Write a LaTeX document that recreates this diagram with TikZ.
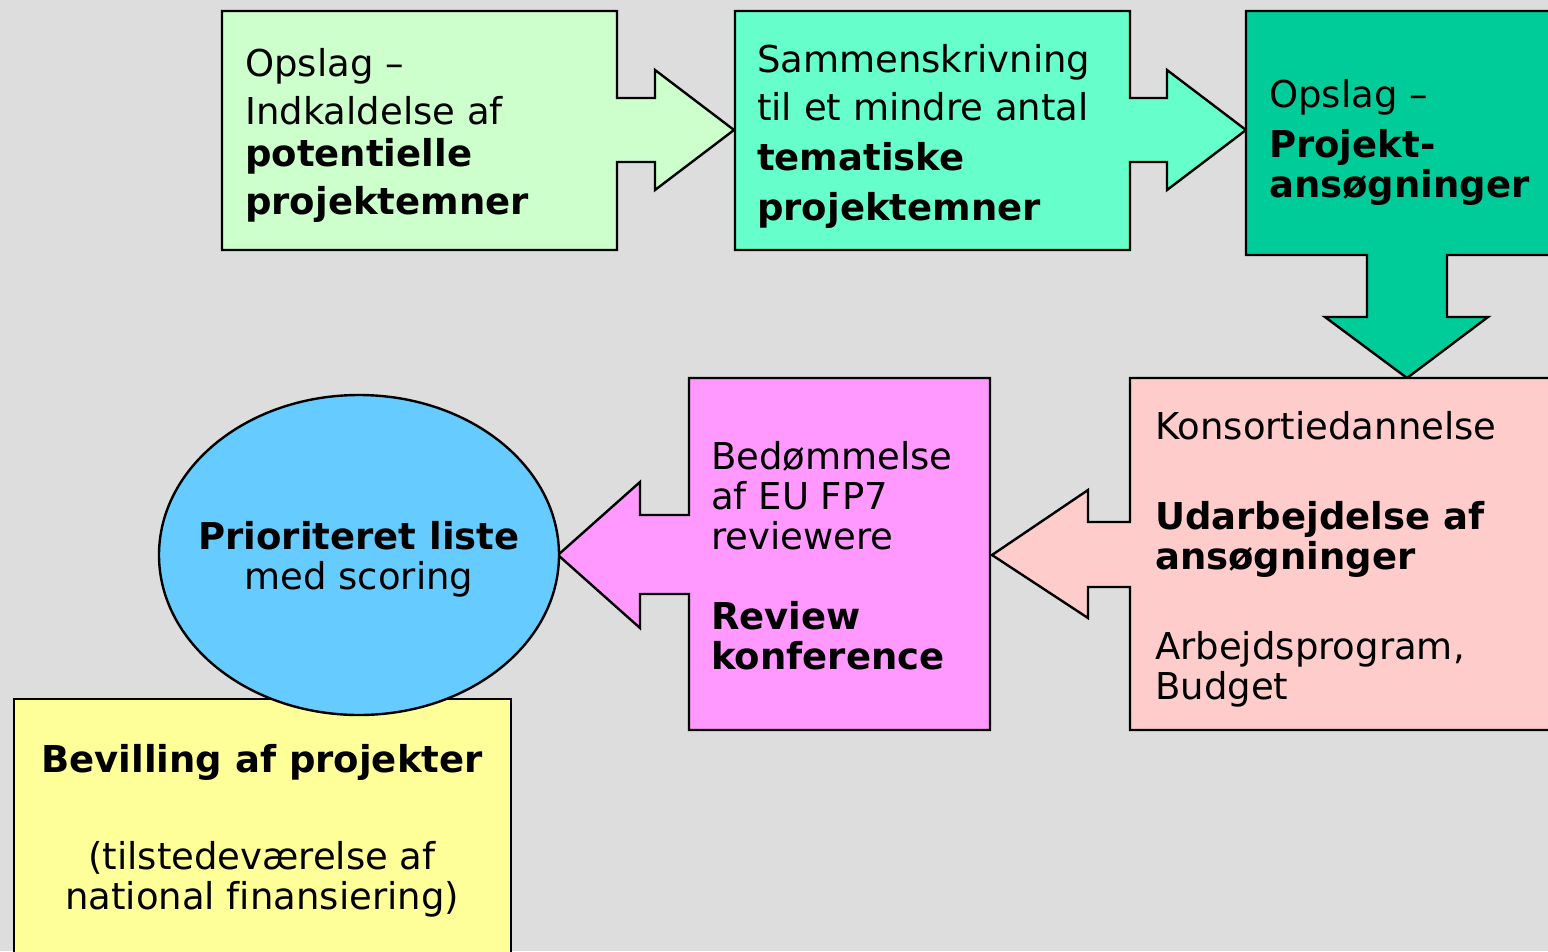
\documentclass[tikz,border=0pt]{standalone}
\usepackage{fontspec}
\setmainfont[Ligatures=NoCommon]{DejaVu Sans}
\definecolor{bggray}{HTML}{DDDDDD}
\definecolor{paleGreen}{HTML}{CCFFCC}
\definecolor{aquaGreen}{HTML}{66FFCC}
\definecolor{deepGreen}{HTML}{00CC99}
\definecolor{palePink}{HTML}{FFCCCC}
\definecolor{lilac}{HTML}{FF99FF}
\definecolor{skyBlue}{HTML}{66CCFF}
\definecolor{paleYellow}{HTML}{FFFF99}

\begin{document}
\begin{tikzpicture}[line join=miter,x=1pt,y=-1pt,
    callout/.style={draw=black,line width=2.4pt},
    txt/.style={anchor=base west,align=left,inner sep=0pt,font=\fontsize{37}{40}\selectfont},
    ctxt/.style={anchor=base,align=center,inner sep=0pt,font=\fontsize{37}{40}\selectfont}]
    \useasboundingbox (0,0) rectangle (1548,951);
    \fill[bggray] (0,0) rectangle (1548,951);
    \clip (0,0) rectangle (1548,951);
    % top row
    \draw[callout,fill=paleGreen] (222,11) -- (617,11) -- (617,98) -- (655,98) -- (655,70) -- (734,130) -- (655,190) -- (655,162) -- (617,162) -- (617,250) -- (222,250) -- cycle;
    \draw[callout,fill=aquaGreen] (735,11) -- (1130,11) -- (1130,98) -- (1167,98) -- (1167,70) -- (1246,130) -- (1167,190) -- (1167,162) -- (1130,162) -- (1130,250) -- (735,250) -- cycle;
    \draw[callout,fill=deepGreen] (1246,11) -- (1560,11) -- (1560,255) -- (1447,255) -- (1447,317) -- (1488,317) -- (1407,378) -- (1325,317) -- (1367,317) -- (1367,255) -- (1246,255) -- cycle;
    % bottom row
    \draw[callout,fill=palePink] (1130,378) -- (1560,378) -- (1560,730) -- (1130,730) -- (1130,587) -- (1088,587) -- (1088,618) -- (992,555) -- (1088,490) -- (1088,522) -- (1130,522) -- cycle;
    \draw[callout,fill=lilac] (689,378) -- (990,378) -- (990,730) -- (689,730) -- (689,594) -- (640,594) -- (640,628) -- (558,555) -- (640,482) -- (640,515) -- (689,515) -- cycle;
    \draw[callout,fill=paleYellow] (14,699) rectangle (511,960);
    \draw[callout,fill=skyBlue] (359,555) ellipse [x radius=200, y radius=160];

    % texts, placed by the baseline of their last line
    \node[txt] (opslag) at (245,214) {Opslag –\\[8pt] Indkaldelse af\\[2pt] \textbf{potentielle}\\[8pt] \textbf{projektemner}};
    \node[txt] (samlet) at (757,220) {Sammenskrivning\\[8pt] til et mindre antal\\[10pt] \textbf{tematiske}\\[10pt] \textbf{projektemner}};
    \node[txt] (ansog) at (1269,197) {Opslag –\\[10pt] \textbf{Projekt-}\\ \textbf{ansøgninger}};
    \node[txt] (konsort) at (1155,699) {Konsortiedannelse\\[50pt] \textbf{Udarbejdelse af}\\ \textbf{ansøgninger}\\[50pt] Arbejdsprogram,\\ Budget};
    \node[txt] (review) at (711,669) {Bedømmelse\\ af EU FP7\\ reviewere\\[40pt] \textbf{Review}\\ \textbf{konference}};
    \node[ctxt] (liste) at (359,589) {\textbf{Prioriteret liste}\\ med scoring};
    \node[ctxt] (bevil) at (262,909) {\textbf{Bevilling af projekter}\\[57pt] (tilstedeværelse af\\ national finansiering)};
\end{tikzpicture}
\end{document}
